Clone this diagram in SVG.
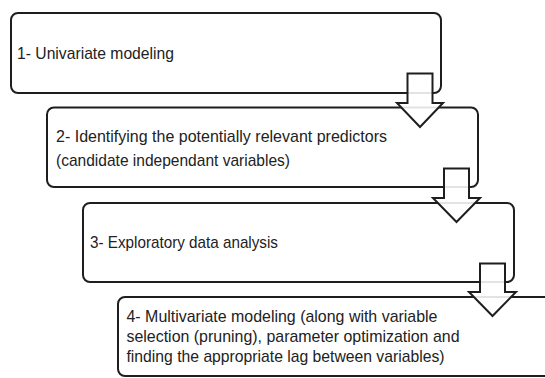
<svg xmlns="http://www.w3.org/2000/svg" width="545" height="378" viewBox="0 0 545 378">
<style>
.box{fill:#fff;stroke:#1e1e1e;stroke-width:2}
.arr{fill:#fff;fill-opacity:0.88;stroke:#1e1e1e;stroke-width:2;stroke-linejoin:miter}
text{font-family:"Liberation Sans",Arial,sans-serif;font-size:17px;fill:#222}
</style>
<rect width="545" height="378" fill="#fff"/>
<g id="node1">
<rect class="box" x="11" y="13" width="430" height="80" rx="7"/>
<text x="17" y="59" textLength="157" lengthAdjust="spacingAndGlyphs">1- Univariate modeling</text>
</g>
<g id="node2">
<rect class="box" x="47" y="107.5" width="431" height="79.5" rx="7"/>
<text x="56" y="142" textLength="331" lengthAdjust="spacingAndGlyphs">2- Identifying the potentially relevant predictors</text>
<text x="56" y="165.5" textLength="234" lengthAdjust="spacingAndGlyphs">(candidate independant variables)</text>
</g>
<g id="node3">
<rect class="box" x="83" y="203" width="431" height="79" rx="7"/>
<text x="90" y="247.5" textLength="188" lengthAdjust="spacingAndGlyphs">3- Exploratory data analysis</text>
</g>
<g id="node4">
<rect class="box" x="118" y="297" width="434" height="79" rx="7"/>
<text x="126.5" y="321.5" textLength="311" lengthAdjust="spacingAndGlyphs">4- Multivariate modeling (along with variable</text>
<text x="126.5" y="341.5" textLength="333" lengthAdjust="spacingAndGlyphs">selection (pruning), parameter optimization and</text>
<text x="126.5" y="361.5" textLength="318" lengthAdjust="spacingAndGlyphs">finding the appropriate lag between variables)</text>
</g>
<g id="connectors">
<polygon class="arr" points="407.5,73.5 432.5,73.5 432.5,103 443,103 420,127 397,103 407.5,103"/>
<polygon class="arr" points="444,168.5 469,168.5 469,198 480,198 456.5,222 433,198 444,198"/>
<polygon class="arr" points="480,263.5 505,263.5 505,292 516,292 492.5,316 469,292 480,292"/>
</g>
</svg>
